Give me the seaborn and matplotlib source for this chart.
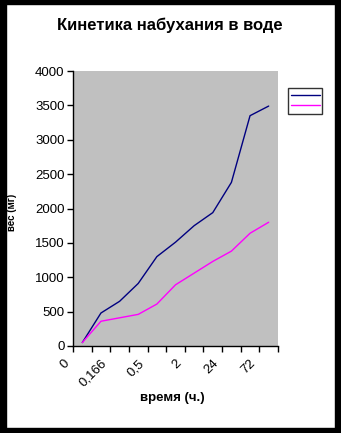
import matplotlib
matplotlib.use("Agg")
import matplotlib.pyplot as plt
import matplotlib.transforms as mtransforms
from matplotlib.patches import Rectangle
from matplotlib.lines import Line2D
import seaborn as sns
import pandas as pd
import numpy as np

# Data
x_index = list(range(11))
tick_labels = ["0", "0,166", "0,5", "2", "24", "72"]
series1 = [50, 480, 650, 910, 1300, 1510, 1750, 1940, 2380, 3350, 3490]
series2 = [50, 360, 410, 460, 610, 890, 1060, 1230, 1380, 1640, 1800]
title = "Кинетика набухания в воде"
xlabel = "время (ч.)"
ylabel = "вес (мг)"

df = pd.DataFrame({
    "x": x_index * 2,
    "y": series1 + series2,
    "s": ["1"] * 11 + ["2"] * 11,
})

sns.set_style("white")
plt.rcParams['font.family'] = ['Liberation Sans', 'DejaVu Sans']
plt.rcParams['text.color'] = 'black'
plt.rcParams['xtick.color'] = 'black'
plt.rcParams['ytick.color'] = 'black'

W, H = 341, 433
fig = plt.figure(figsize=(W / 100, H / 100), dpi=100, facecolor="white")
ax = fig.add_axes([73 / W, (H - 346) / H, (278 - 73) / W, (346 - 71) / H])
ax.set_facecolor("#C0C0C0")

palette = {"1": "#000080", "2": "#FF00FF"}
sns.lineplot(data=df, x="x", y="y", hue="s", palette=palette, ax=ax,
             linewidth=1.0, legend=False, estimator=None)

ax.set_xlim(-0.5, 10.5)
ax.set_ylim(0, 4000)
ax.set_yticks(np.arange(0, 4001, 500))
ax.set_yticklabels([str(v) for v in range(0, 4001, 500)], fontsize=9.5)
ax.tick_params(axis="y", direction="out", length=4, width=1, color="black", pad=2, left=True)

ax.set_xticks(np.arange(-0.5, 10.6, 1.0))
ax.set_xticklabels([])
ax.tick_params(axis="x", direction="out", length=4, width=1, color="black", bottom=True)
ax.set_xticks([0, 2, 4, 6, 8, 10], minor=True)
ax.set_xticklabels(tick_labels, minor=True, rotation=45, ha="right",
                   rotation_mode="anchor", fontsize=9.5)
ax.tick_params(axis="x", which="minor", length=0, pad=6)
offset = mtransforms.ScaledTranslation(-19 / 100, -3 / 100, fig.dpi_scale_trans)
for lbl in ax.get_xticklabels(minor=True):
    lbl.set_transform(lbl.get_transform() + offset)

for s in ["top", "right"]:
    ax.spines[s].set_visible(False)
for s in ["left", "bottom"]:
    ax.spines[s].set_color("black")
    ax.spines[s].set_linewidth(1)

ax.set_xlabel("")
ax.set_ylabel("")
fig.text(172 / W, 1 - 398 / H, xlabel, ha="center", va="center",
         fontsize=9.5, fontweight="bold")
fig.text(12 / W, 1 - 212 / H, ylabel, ha="center", va="center",
         fontsize=7, fontweight="bold", rotation=90)
fig.text(170 / W, 1 - 25 / H, title, ha="center", va="center",
         fontsize=12, fontweight="bold")

handles = [Line2D([], [], color=palette["1"], lw=1), Line2D([], [], color=palette["2"], lw=1)]
leg = fig.legend(handles, ["", ""], loc="upper left",
                 bbox_to_anchor=(288 / W, 1 - 88 / H), frameon=True,
                 fancybox=False, handlelength=2.6, handletextpad=0,
                 borderpad=0.25, labelspacing=0.05, fontsize=8, borderaxespad=0)
leg.get_frame().set_edgecolor("black")
leg.get_frame().set_linewidth(1)

# black frame around figure
for (x0, y0, w, h) in [(0, 0, 6, H), (335, 0, W - 335, H), (0, 0, W, 4), (0, 428, W, H - 428)]:
    fig.patches.append(Rectangle((x0 / W, 1 - (y0 + h) / H), w / W, h / H,
                                 transform=fig.transFigure, color="black", zorder=10))

fig.savefig("out.png", dpi=100, facecolor="white")
